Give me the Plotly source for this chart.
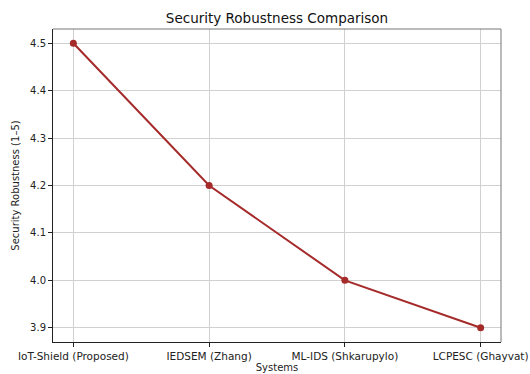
import plotly.graph_objects as go

systems = ["IoT-Shield (Proposed)", "IEDSEM (Zhang)", "ML-IDS (Shkarupylo)", "LCPESC (Ghayvat)"]
robustness = [4.5, 4.2, 4.0, 3.9]
y_ticks = [3.9, 4.0, 4.1, 4.2, 4.3, 4.4, 4.5]

W, H = 530, 374

fig = go.Figure()
fig.add_trace(go.Scatter(
    x=list(range(len(systems))), y=robustness, mode="lines+markers",
    line=dict(color="#a52a2a", width=2),
    marker=dict(color="#a52a2a", size=7),
    cliponaxis=False,
))

fig.update_layout(
    width=W, height=H,
    margin=dict(l=53, r=29, t=29, b=32, autoexpand=False),
    paper_bgcolor="white", plot_bgcolor="white",
    font=dict(family="DejaVu Sans", size=10, color="#222"),
    title=dict(text="Security Robustness Comparison", x=(53 + (W - 53 - 29) / 2) / W,
               xanchor="center", y=1 - 18 / H, yanchor="middle",
               font=dict(size=13.5, color="#111")),
    showlegend=False,
)
fig.update_xaxes(
    range=[-0.15, 3.15], tickmode="array", tickvals=list(range(len(systems))),
    ticktext=systems, showgrid=True, gridcolor="#d0d0d0", gridwidth=1,
    showline=True, linecolor="#222", linewidth=1, mirror=False, automargin=False,
    ticks="outside", ticklen=4, tickcolor="#222", zeroline=False,
    ticklabeloverflow="allow",
    title=dict(text="Systems", standoff=2, font=dict(size=10)),
    tickfont=dict(size=10.5),
)
fig.update_yaxes(
    range=[3.87, 4.53], tickmode="array", tickvals=y_ticks,
    ticktext=[f"{v:.1f}" for v in y_ticks], showgrid=True, gridcolor="#d0d0d0",
    gridwidth=1, showline=True, linecolor="#222", linewidth=1, mirror=False,
    automargin=False,
    ticks="outside", ticklen=4, tickcolor="#222", zeroline=False,
    title=dict(text="Security Robustness (1–5)", standoff=8, font=dict(size=10)),
    tickfont=dict(size=10),
)
fig.add_shape(type="line", xref="paper", yref="paper", x0=0, x1=1, y0=1, y1=1,
              line=dict(color="#777", width=1))
fig.add_shape(type="line", xref="paper", yref="paper", x0=1, x1=1, y0=0, y1=1,
              line=dict(color="#777", width=1))

fig.write_html("out.html", config={"displayModeBar": False},
               post_script="document.body.style.margin='0';")
